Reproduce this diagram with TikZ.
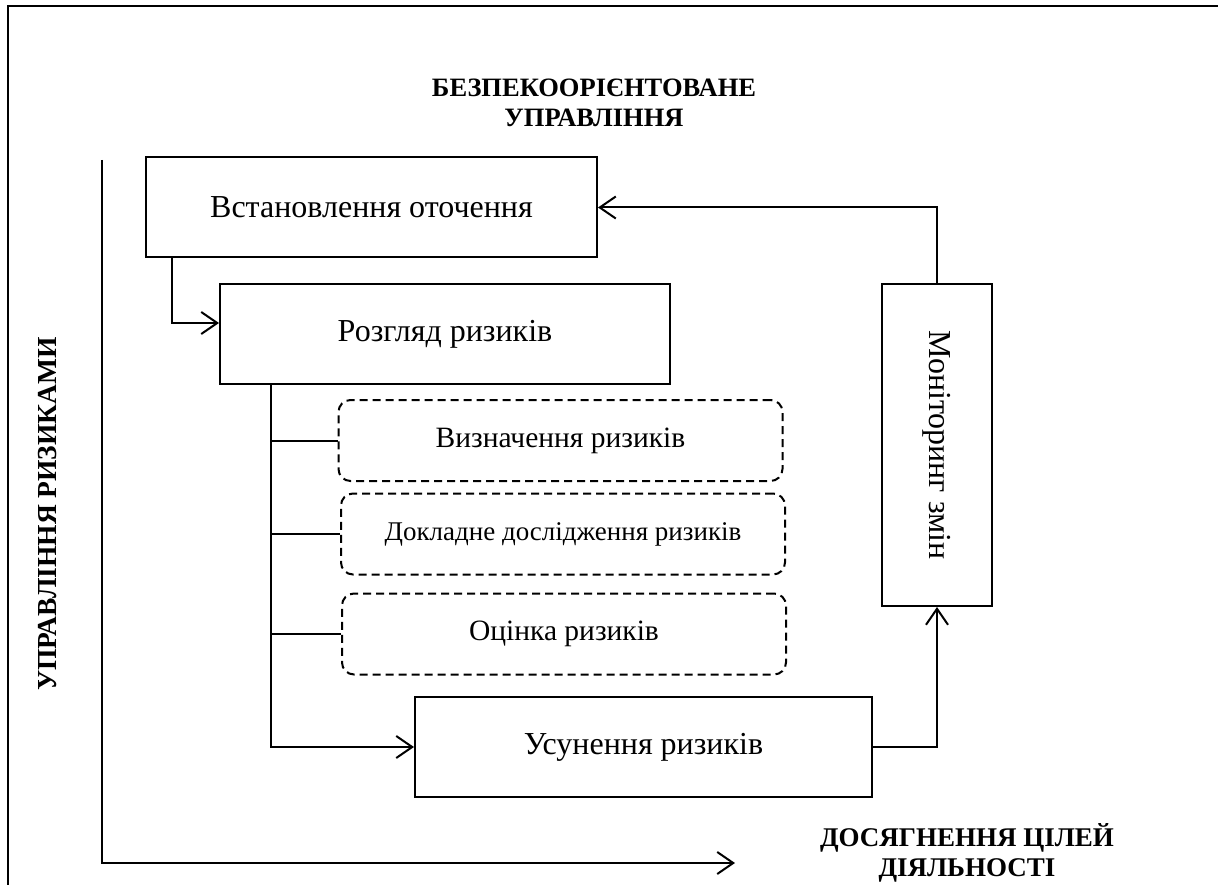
\documentclass[tikz,border=0pt]{standalone}
\usepackage{fontspec}
\setmainfont{Liberation Serif}
\usetikzlibrary{arrows.meta}

\begin{document}
\begin{tikzpicture}[x=1pt, y=-1pt, line width=2pt,
		box/.style={draw, minimum width=#1, minimum height=100pt, inner sep=0pt,
			font=\fontsize{32}{38}\selectfont},
		subbox/.style={draw, dash pattern=on 8pt off 5pt, rounded corners=12pt,
			minimum width=444pt, minimum height=81pt, inner sep=0pt,
			font=\fontsize{29.5}{34}\selectfont},
		arr/.style={-{Straight Barb[length=16pt, width=22pt, line width=2pt]}},
		title/.style={font=\bfseries\fontsize{26.5}{30}\selectfont, align=center}]
			\useasboundingbox (0, 0) rectangle (1218, 885);
			\draw (8, 885) -- (8, 6) -- (1218, 6);
			% axes
			\coordinate (ytop) at (102, 160);
			\coordinate (xend) at (735, 863);
			\draw[arr] (ytop) |- (xend);
			\node[title] (goal) at (594, 103) {БЕЗПЕКООРІЄНТОВАНЕ\\УПРАВЛІННЯ};
			\node[title, rotate=90, font=\bfseries\fontsize{27.5}{32}\selectfont] (risk) at (48, 514) {УПРАВЛІННЯ РИЗИКАМИ};
			\node[title, anchor=north, font=\bfseries\fontsize{27}{30}\selectfont] (aims) at (967, 819) {ДОСЯГНЕННЯ ЦІЛЕЙ\\ДІЯЛЬНОСТІ};
			% process
			\node[box=451pt] (setup) at (371.5, 207.5) {Встановлення оточення};
			\node[box=450pt] (review) at (445, 334) {Розгляд ризиків};
			\node[subbox] (ident) at (560.5, 440.5) {Визначення ризиків};
			\node[subbox, font=\fontsize{27}{32}\selectfont] (study) at (563, 534) {Докладне дослідження ризиків};
			\node[subbox] (rate) at (564, 634) {Оцінка ризиків};
			\node[box=457pt] (treat) at (643.5, 747) {Усунення ризиків};
			\node[draw, rotate=-90, minimum width=322pt, minimum height=110pt, inner sep=0pt,
				font=\fontsize{32}{38}\selectfont] (watch) at (937, 445) {Моніторинг змін};
			\draw[arr] ([xshift=27pt]setup.south west) |- ([yshift=11pt]review.west);
			\coordinate (trunk) at ([xshift=52pt]review.south west);
			\foreach \n in {ident, study, rate}
				\draw (trunk |- \n.west) -- (\n.west);
			\draw[arr] (trunk) |- (treat.west);
			\draw[arr] (treat.east) -| (watch.east);
			\draw[arr] (watch.west) |- (setup.east);
		\end{tikzpicture}
\end{document}
